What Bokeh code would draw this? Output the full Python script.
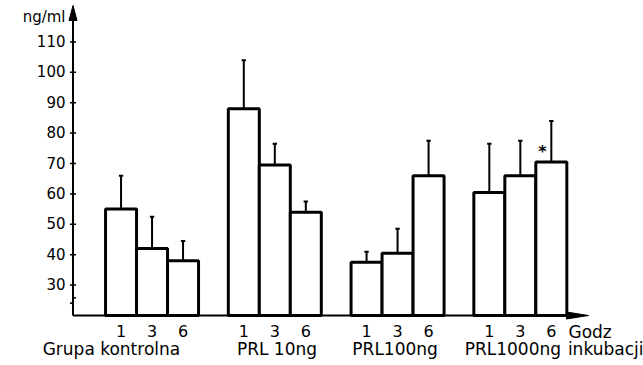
from bokeh.plotting import figure
from bokeh.models import Range1d, FixedTicker, LinearAxis, ColumnDataSource
from bokeh.core.properties import value
from bokeh.embed import file_html
from bokeh.resources import INLINE

# ---- data ----
groups = ["Grupa kontrolna", "PRL 10ng", "PRL100ng", "PRL1000ng"]
hours = ["1", "3", "6"]
means_ctrl = [55, 42, 38]
means_10 = [88, 69.5, 54]
means_100 = [37.5, 40.5, 66]
means_1000 = [60.5, 66, 70.5]
upper_ctrl = [66, 52.5, 44.5]
upper_10 = [104, 76.5, 57.5]
upper_100 = [41, 48.5, 77.5]
upper_1000 = [76.5, 77.5, 84]
y_ticks = [30, 40, 50, 60, 70, 80, 90, 100, 110]
y_unit_label = "ng/ml"
x_title = ["Godz", "inkubacji"]
star_group, star_bar = 3, 2

means = [means_ctrl, means_10, means_100, means_1000]
uppers = [upper_ctrl, upper_10, upper_100, upper_1000]

# ---- layout ----
W, H = 643, 365
BASE = 20
PX_X = 31.0     # px per x unit
PX_Y = 3.04     # px per y unit
AX_X = 72.5     # pixel column of the y axis
AX_Y = 315      # pixel row of the x axis
LEFT = 66
BOTTOM = 338
first_left = 1.05
group_step = 3.96
bar_w = 1.0
label_shift = [-1.31, 0.07, -0.08, -0.24]
FONT = "DejaVu Sans"

lefts, rights, tops, centers, ups, tick_lab = [], [], [], [], [], []
for g in range(len(groups)):
    for i in range(len(hours)):
        l = first_left + g * group_step + i * bar_w
        lefts.append(l)
        rights.append(l + bar_w)
        centers.append(l + bar_w / 2)
        tops.append(means[g][i])
        ups.append(uppers[g][i])
        tick_lab.append(hours[i])

src = ColumnDataSource(dict(left=lefts, right=rights, top=tops, c=centers, up=ups))

x0 = -(AX_X - LEFT) / PX_X
y_top = BASE + AX_Y / PX_Y
y_bot = BASE - (BOTTOM - AX_Y) / PX_Y
p = figure(width=W, height=H, output_backend="svg", toolbar_location=None,
           x_range=Range1d(x0, x0 + (W - LEFT) / PX_X), y_range=Range1d(y_bot, y_top),
           min_border_left=LEFT, min_border_right=0, min_border_top=0,
           min_border_bottom=H - BOTTOM, x_axis_location=None, y_axis_location=None)
p.outline_line_color = None
p.grid.visible = False
p.background_fill_color = "white"
p.border_fill_color = "white"

# bars
p.quad(left="left", right="right", bottom=BASE, top="top", source=src,
       fill_color="white", line_color="black", line_width=3)
# error bars
p.segment(x0="c", y0="top", x1="c", y1="up", source=src, line_color="black", line_width=2)
cap = 0.07
p.segment(x0=[c - cap for c in centers], y0=ups, x1=[c + cap for c in centers], y1=ups,
          line_color="black", line_width=2)

# significance mark
sc = centers[star_group * 3 + star_bar]
p.text(x=[sc - 9 / PX_X], y=[73.9], text=["*"], text_font=value(FONT), text_font_size="16px",
       text_font_style="bold", text_align="center", text_baseline="alphabetic",
       text_color="black")

# axes lines with arrow heads
x_tip = (588 - AX_X) / PX_X
y_tip = BASE + (AX_Y - 5) / PX_Y
p.segment(x0=[0, 0], y0=[BASE, BASE], x1=[x_tip - 10 / PX_X, 0], y1=[BASE, y_tip - 8 / PX_Y],
          line_color="black", line_width=2)
p.patch(x=[0, -4 / PX_X, 4 / PX_X], y=[y_tip, y_tip - 15 / PX_Y, y_tip - 15 / PX_Y],
        fill_color="black", line_color="black", line_width=1)
p.patch(x=[x_tip, x_tip - 22 / PX_X, x_tip - 22 / PX_X], y=[BASE, BASE + 3.5 / PX_Y, BASE - 3.5 / PX_Y],
        fill_color="black", line_color="black", line_width=1)
# y ticks
p.segment(x0=[-3 / PX_X] * len(y_ticks), y0=y_ticks, x1=[3 / PX_X] * len(y_ticks), y1=y_ticks,
          line_color="black", line_width=1.5)
# axis break mark
p.line(x=[-3 / PX_X, 0, 0, 3 / PX_X], y=[BASE + 12 / PX_Y, BASE + 13 / PX_Y, BASE + 17 / PX_Y, BASE + 18 / PX_Y],
       line_color="black", line_width=1.5)

# hour labels and "Godz"
p.text(x=centers, y=[BASE - 15 / PX_Y] * len(centers), text=tick_lab, text_font=value(FONT),
       text_font_size="16px", text_align="center", text_baseline="alphabetic", text_color="black")
tx = (568 - AX_X) / PX_X
p.text(x=[tx], y=[BASE - 16 / PX_Y], text=[x_title[0]], text_font=value(FONT),
       text_font_size="17px", text_align="left", text_baseline="alphabetic", text_color="black")

# group names + "inkubacji" on a lower axis
gcent = [round(first_left + g * group_step + 1.5 * bar_w + label_shift[g], 4) for g in range(len(groups))]
ix = round(tx + 38 / PX_X, 4)
gax = LinearAxis(ticker=FixedTicker(ticks=gcent + [ix]))
ov = {c: t for c, t in zip(gcent, groups)}
ov[ix] = x_title[1]
gax.major_label_overrides = ov
gax.axis_line_color = None
gax.major_tick_line_color = None
gax.minor_tick_line_color = None
gax.major_tick_in = 0
gax.major_tick_out = 0
gax.major_label_standoff = 0
gax.major_label_text_font = FONT
gax.major_label_text_font_size = "17px"
gax.major_label_text_color = "black"
p.add_layout(gax, "below")

# y axis (labels)
ny = BASE + (AX_Y - 16) / PX_Y
yax = LinearAxis(ticker=FixedTicker(ticks=y_ticks + [ny]))
yax.major_label_overrides = {ny: y_unit_label}
yax.axis_line_color = None
yax.major_tick_in = 0
yax.major_tick_out = 0
yax.minor_tick_line_color = None
yax.major_label_standoff = 1
yax.major_label_text_font = FONT
yax.major_label_text_font_size = "15px"
yax.major_label_text_color = "black"
p.add_layout(yax, "left")

open("out.html", "w").write(file_html(p, INLINE))
